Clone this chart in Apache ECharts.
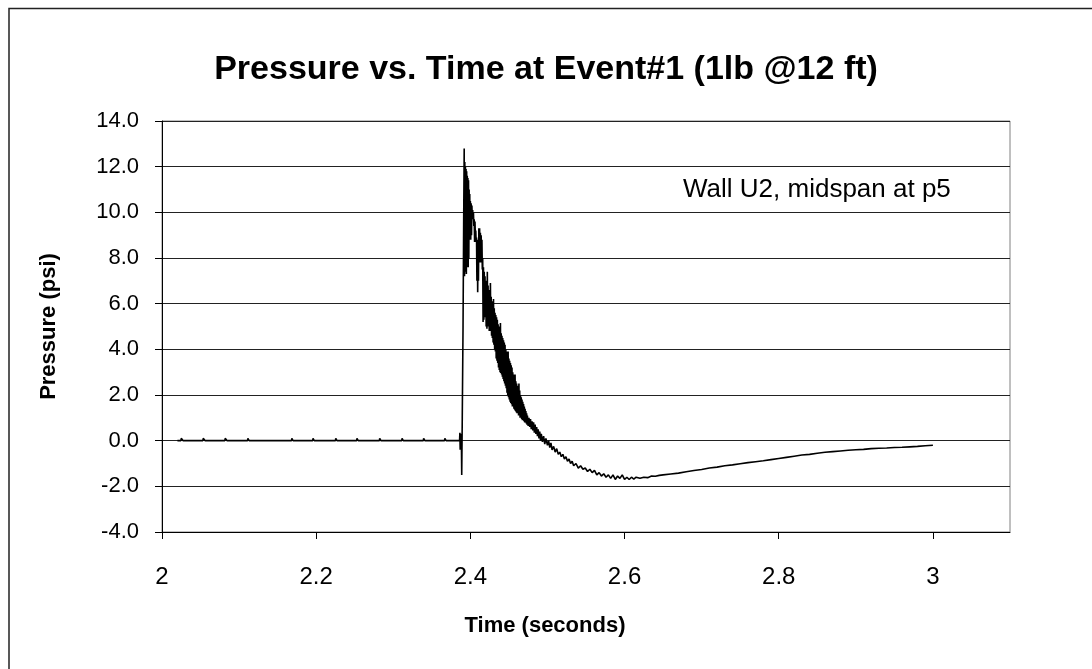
<!DOCTYPE html>
<html>
<head>
<meta charset="utf-8">
<script src="https://cdn.jsdelivr.net/npm/echarts@6/dist/echarts.min.js"></script>
<style>
html,body{margin:0;padding:0;background:#fff;}
#chart{width:1092px;height:669px;}
</style>
</head>
<body>
<div id="chart"></div>
<script>
// ---- data (time in seconds, pressure in psi) ----
var xTickValues = [2, 2.2, 2.4, 2.6, 2.8, 3];
var yTickValues = [-4, -2, 0, 2, 4, 6, 8, 10, 12, 14];

// quiet baseline before the blast, with small recording blips
var baseline = [
  [2.020,0],[2.0245,0],[2.0250,0.1],[2.0270,0.1],[2.0275,0],
  [2.0530,0],[2.0535,0.1],[2.0555,0.1],[2.0560,0],
  [2.0815,0],[2.0820,0.1],[2.0840,0.1],[2.0845,0],
  [2.1110,0],[2.1114,0.1],[2.1126,0.1],[2.1130,0],
  [2.1680,0],[2.1684,0.1],[2.1696,0.1],[2.1700,0],
  [2.1955,0],[2.1959,0.1],[2.1971,0.1],[2.1975,0],
  [2.2250,0],[2.2254,0.1],[2.2266,0.1],[2.2270,0],
  [2.2525,0],[2.2529,0.1],[2.2541,0.1],[2.2545,0],
  [2.2820,0],[2.2824,0.1],[2.2836,0.1],[2.2840,0],
  [2.3110,0],[2.3114,0.1],[2.3126,0.1],[2.3130,0],
  [2.3390,0],[2.3394,0.1],[2.3406,0.1],[2.3410,0],
  [2.3665,0],[2.3669,0.1],[2.3681,0.1],[2.3685,0],
  [2.3860,0],[2.3864,0.35],[2.3868,-0.4],[2.3872,0.3],[2.3876,-0.35],[2.3880,0.2],[2.3884,-0.2]
];

// arrival of the shock front
var shock = [
  [2.3888,-1.5],[2.3895,1.0],[2.3905,5.0],[2.3913,9.5],[2.3920,12.8]
];

// noisy peak and decay
var decay = [
  [2.3924,7.2],[2.3928,12.2],[2.3932,7.4],[2.3936,12.0],[2.3940,7.5],[2.3944,11.9],[2.3948,7.3],
  [2.3952,11.8],[2.3956,7.6],[2.3960,11.6],[2.3964,7.7],[2.3968,11.5],[2.3972,7.6],[2.3976,11.4],
  [2.3980,8.0],[2.3984,11.0],[2.3988,8.8],[2.3992,10.8],[2.3996,8.9],[2.4000,10.5],[2.4005,8.8],
  [2.4010,10.4],[2.4015,9.0],[2.4020,10.3],[2.4025,9.7],[2.4030,10.1],[2.4035,9.7],[2.4040,10.0],
  [2.4045,9.4],[2.4050,9.7],[2.4055,8.7],[2.4060,9.6],[2.4065,8.9],[2.4070,9.2],[2.4075,8.7],
  [2.4080,8.9],[2.4085,7.0],[2.4090,8.8],[2.4095,6.5],[2.4100,8.6],[2.4105,7.0],[2.4110,9.3],
  [2.4115,7.8],[2.4120,9.3],[2.4125,8.0],[2.4130,9.1],[2.4135,7.8],[2.4140,9.0],[2.4145,7.9],
  [2.4150,8.8],[2.4155,7.5],[2.4160,8.0],[2.4165,5.2],[2.4170,7.6],[2.4175,5.3],[2.4180,7.4],
  [2.4185,5.4],[2.4190,7.2],[2.4195,5.5],[2.4200,7.0],[2.4205,5.0],[2.4210,6.9],[2.4215,4.9],
  [2.4220,7.4],[2.4225,5.2],[2.4230,6.8],[2.4235,5.0],[2.4240,6.6],[2.4245,4.8],[2.4250,6.5],
  [2.4255,4.9],[2.4260,6.9],[2.4265,4.8],[2.4270,6.3],[2.4275,4.6],[2.4280,6.1],[2.4285,4.5],
  [2.4290,5.9],[2.4295,4.3],[2.4300,6.2],[2.4305,4.2],[2.4310,5.8],[2.4315,4.0],[2.4320,5.6],
  [2.4325,3.9],[2.4330,5.5],[2.4335,3.6],[2.4340,5.4],[2.4345,3.5],[2.4350,5.3],[2.4355,3.4],
  [2.4360,5.1],[2.4365,3.2],[2.4370,5.0],[2.4375,3.1],[2.4380,4.9],[2.4385,3.0],[2.4390,5.15],
  [2.4395,2.96],[2.4400,4.7],[2.4405,2.9],[2.4410,4.6],[2.4415,2.8],[2.4420,4.5],[2.4425,2.7],
  [2.4430,4.4],[2.4435,2.6],[2.4440,4.3],[2.4445,2.5],[2.4450,4.2],[2.4455,2.4],[2.4460,4.0],
  [2.4465,2.3],[2.4470,3.9],[2.4475,2.1],[2.4480,3.8],[2.4485,2.0],[2.4490,3.9],[2.4495,1.9],
  [2.4500,3.6],[2.4505,1.8],[2.4510,3.5],[2.4515,1.7],[2.4520,3.4],[2.4525,1.65],[2.4530,3.3],
  [2.4535,1.6],[2.4540,3.2],[2.4545,1.5],[2.4550,3.0],[2.4555,1.5],[2.4560,2.9],[2.4565,1.4],
  [2.4570,2.8],[2.4575,1.35],[2.4580,2.9],[2.4585,1.3],[2.4590,2.6],[2.4595,1.25],[2.4600,2.5],
  [2.4605,1.2],[2.4610,2.4],[2.4615,1.2],[2.4620,2.3],[2.4625,1.1],[2.4630,2.5],[2.4635,1.1],
  [2.4640,2.2],[2.4645,1.0],[2.4650,2.0],[2.4655,1.0],[2.4660,1.9],[2.4665,0.95],[2.4670,1.8],
  [2.4675,0.9],[2.4680,1.7],[2.4685,0.9],[2.4690,1.6],[2.4695,0.85],[2.4700,1.5],[2.4705,0.8],
  [2.4710,1.4],[2.4715,0.8],[2.4720,1.3],[2.4725,0.75],[2.4730,1.2],[2.4735,0.7],[2.4740,1.1],
  [2.4750,0.65],[2.4760,1.0],[2.4770,0.6],[2.4780,0.95],[2.4790,0.5],[2.4800,0.85],[2.4810,0.45],
  [2.4820,0.8],[2.4830,0.35],[2.4840,0.7],[2.4850,0.3],[2.4860,0.6],[2.4870,0.2],[2.4880,0.5],
  [2.4890,0.1],[2.4900,0.4],[2.4910,0.0],[2.4920,0.3],[2.4935,-0.05],[2.4950,0.2],[2.4965,-0.15],
  [2.4980,0.1],[2.5000,-0.2],[2.5015,0.0],[2.5030,-0.3],[2.5045,-0.1],[2.5060,-0.4],[2.5080,-0.25],
  [2.5100,-0.5],[2.5120,-0.35],[2.5140,-0.6],[2.5160,-0.5],[2.5180,-0.7],[2.5200,-0.6],[2.5220,-0.8],
  [2.5240,-0.7],[2.5260,-0.9],[2.5280,-0.8],[2.5300,-1.0],[2.5320,-0.9],[2.5340,-1.1],[2.5370,-1.0],
  [2.5400,-1.2],[2.5430,-1.1],[2.5460,-1.25],[2.5490,-1.2],[2.5520,-1.35],[2.5550,-1.25],[2.5580,-1.4],
  [2.5610,-1.3],[2.5640,-1.5],[2.5670,-1.4],[2.5700,-1.55],[2.5730,-1.45],[2.5760,-1.6],[2.5790,-1.5],
  [2.5820,-1.65],[2.5850,-1.5],[2.5880,-1.7],[2.5910,-1.55],[2.5940,-1.65],[2.5970,-1.5],[2.6000,-1.7],
  [2.6030,-1.6],[2.6060,-1.7],[2.6090,-1.6],[2.6120,-1.68],[2.6150,-1.6],[2.6200,-1.65],[2.6250,-1.6]
];

// slow recovery towards ambient
var recovery = [
  [2.6300,-1.62],[2.6350,-1.55],[2.6400,-1.56],[2.6450,-1.52],[2.6500,-1.5],[2.6600,-1.46],
  [2.6700,-1.42],[2.6800,-1.36],[2.6900,-1.31],[2.7000,-1.26],[2.7100,-1.2],[2.7200,-1.16],
  [2.7300,-1.1],[2.7400,-1.06],[2.7500,-1.01],[2.7600,-0.96],[2.7700,-0.92],[2.7800,-0.88],
  [2.7900,-0.83],[2.8000,-0.78],[2.8100,-0.73],[2.8200,-0.68],[2.8300,-0.63],[2.8400,-0.6],
  [2.8500,-0.55],[2.8600,-0.51],[2.8700,-0.48],[2.8800,-0.45],[2.8900,-0.42],[2.9000,-0.4],
  [2.9100,-0.38],[2.9200,-0.35],[2.9300,-0.33],[2.9400,-0.32],[2.9500,-0.3],[2.9600,-0.29],
  [2.9700,-0.27],[2.9800,-0.25],[2.9900,-0.22],[3.0000,-0.2]
];

var trace = baseline.concat(shock, decay, recovery);

var FONT = '"Liberation Sans", Arial, sans-serif';
var chart = echarts.init(document.getElementById('chart'), null, {renderer: 'canvas'});
chart.setOption({
  animation: false,
  backgroundColor: '#fff',
  title: {
    text: 'Pressure vs. Time at Event#1 (1lb @12 ft)',
    left: 'center',
    top: 48,
    textStyle: {fontFamily: FONT, fontSize: 34, fontWeight: 'bold', color: '#000'}
  },
  grid: {left: 162, top: 121, right: 82, bottom: 137, show: true, borderColor: '#808080', borderWidth: 1, backgroundColor: 'transparent'},
  xAxis: {
    type: 'value', min: 2, max: 3.1,
    axisLine: {show: true, onZero: false, lineStyle: {color: '#000', width: 1}},
    axisTick: {show: true, inside: false, length: 7, lineStyle: {color: '#000'}, customValues: xTickValues},
    axisLabel: {fontFamily: FONT, fontSize: 24, color: '#000', margin: 33, customValues: xTickValues,
      formatter: function (v) { return String(Math.round(v * 10) / 10); }},
    splitLine: {show: false}
  },
  yAxis: {
    type: 'value', min: -4, max: 14, interval: 2,
    name: 'Pressure (psi)', nameLocation: 'middle', nameGap: 102, nameRotate: 90,
    nameTextStyle: {fontFamily: FONT, fontSize: 22, fontWeight: 'bold', color: '#000'},
    axisLine: {show: true, onZero: false, lineStyle: {color: '#000', width: 1}},
    axisTick: {show: true, inside: false, length: 7, lineStyle: {color: '#000'}},
    axisLabel: {fontFamily: FONT, fontSize: 22, color: '#000', margin: 23,
      formatter: function (v) { return v.toFixed(1); }},
    splitLine: {show: true, lineStyle: {color: '#222', width: 1}}
  },
  graphic: [
    {type: 'rect', shape: {x: 9, y: 8.5, width: 1200, height: 1200}, style: {fill: 'none', stroke: '#222', lineWidth: 1.5}, z: 100},
    {type: 'text', x: 683, y: 190, style: {text: 'Wall U2, midspan at p5', fontFamily: FONT, fontSize: 26, fill: '#000', verticalAlign: 'middle'}, z: 100},
    {type: 'text', x: 545, y: 626, style: {text: 'Time (seconds)', fontFamily: FONT, fontSize: 22, fontWeight: 'bold', fill: '#000', align: 'center', verticalAlign: 'middle'}, z: 100}
  ],
  series: [{
    type: 'line',
    data: trace,
    showSymbol: false,
    symbol: 'none',
    lineStyle: {color: '#000', width: 1.6},
    sampling: null,
    silent: true
  }]
});
</script>
</body>
</html>
